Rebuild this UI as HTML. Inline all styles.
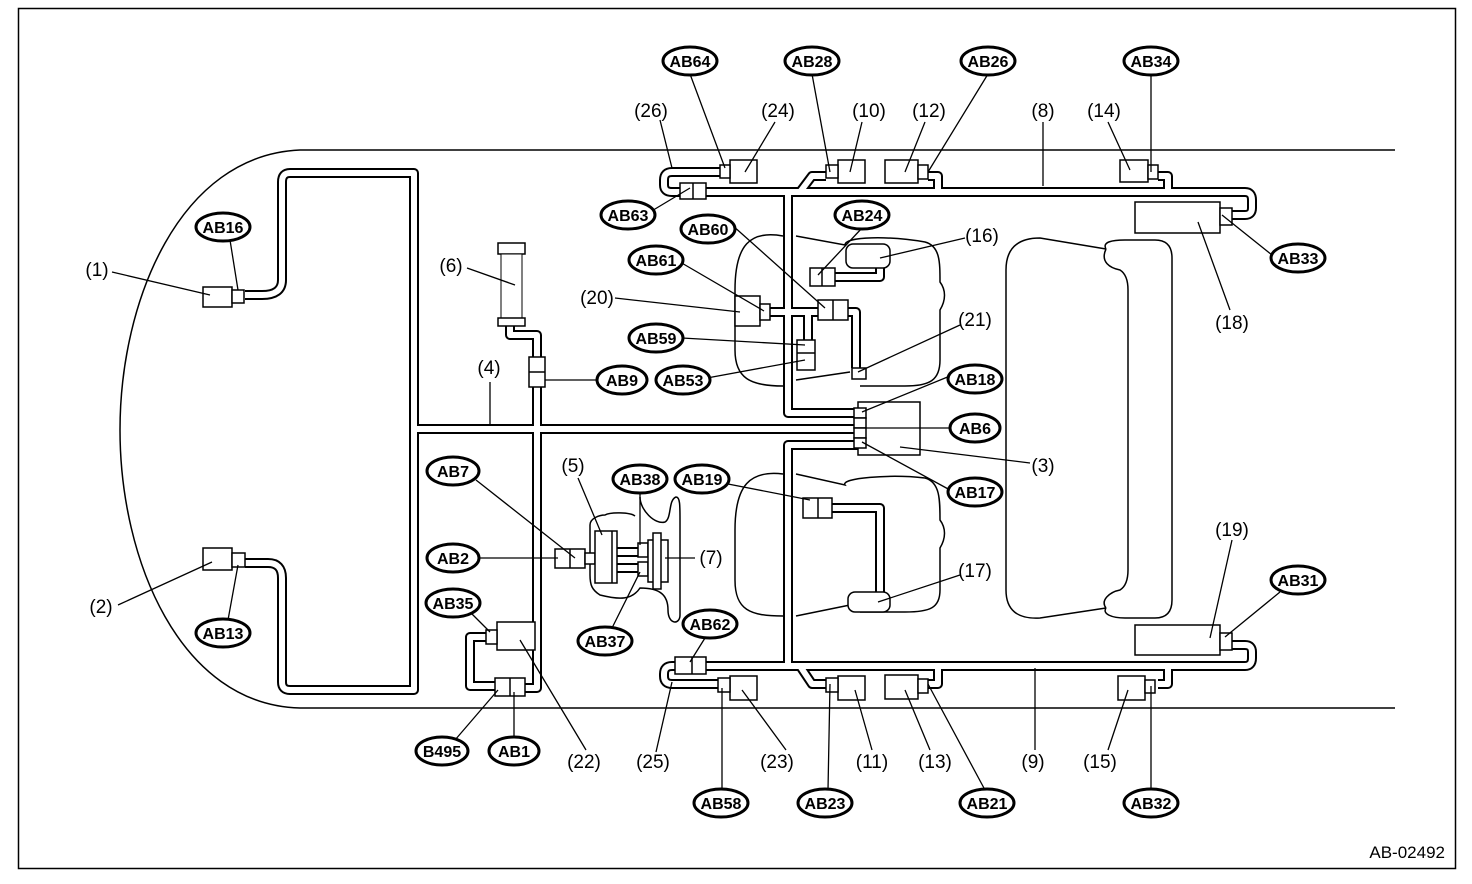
<!DOCTYPE html>
<html><head><meta charset="utf-8"><style>
html,body{margin:0;padding:0;background:#fff}
svg{display:block}
text{font-family:"Liberation Sans",sans-serif}
.n{font-size:19px}
.b{font-size:16px;font-weight:bold}
</style></head><body>
<svg width="1472" height="884" viewBox="0 0 1472 884" xmlns="http://www.w3.org/2000/svg">
<rect x="18.5" y="8.5" width="1437" height="860" fill="none" stroke="#000" stroke-width="1.5"/>
<path d="M1395,150 L300,150 C180,155 120,300 120,430 C120,560 180,705 300,708 L1395,708" fill="none" stroke="#000" stroke-width="1.5"/>
<g fill="none" stroke="#000" stroke-width="1.5">
<path d="M783,236 C750,230 735,245 735,290 V350 C735,378 750,386 783,386"/>
<path d="M796,236 L845,245 C845,236 890,236 925,242 C940,246 940,262 940,282 C946,290 946,300 940,310 V360 C940,380 930,386 905,386 H860"/>
<path d="M796,380 L850,372"/>
<path d="M783,474 C750,470 735,485 735,530 V580 C735,610 750,616 783,616"/>
<path d="M796,474 L845,485 C840,478 890,474 925,478 C940,482 940,500 940,520 C946,528 946,538 940,548 V590 C940,608 930,612 905,612 H860"/>
<path d="M796,616 L850,605"/>
<path d="M1106,249 L1040,238 Q1006,238 1006,270 V590 Q1006,620 1040,618 L1106,608"/>
<path d="M1106,249 C1102,242 1112,240 1125,240 H1155 Q1172,240 1172,258 V600 Q1172,618 1155,618 H1125 C1112,618 1102,614 1106,608"/>
<path d="M1106,249 C1100,262 1110,268 1120,270 Q1128,275 1128,290 V570 Q1128,585 1120,590 C1110,592 1100,600 1106,608"/>
<path d="M640,497 C640,510 655,525 665,522 C672,518 668,500 676,497 C680,497 680,505 680,520 V615 C680,625 668,625 668,610 C668,595 660,588 640,588 C632,600 620,600 600,595 C592,590 590,585 590,575 V525 C590,518 600,515 605,515 C610,512 630,512 635,516"/>
</g>
<defs>
<g id="tubes" fill="none" stroke-linejoin="round">
<path d="M245,295 H262 Q282,295 282,280 V182 Q282,173 290,173 H414 V690 H290 Q282,690 282,682 V578 Q282,563 268,563 H245"/>
<path d="M414,429 H858"/>
<path d="M537,378 V688 H520"/>
<path d="M510,326 V335 H537 V358"/>
<path d="M858,413 H788 V192"/>
<path d="M722,172 H672 Q664,172 664,180 V185 Q664,192 672,192 H1245 Q1252,192 1252,200 V208 Q1252,215 1245,215 H1232"/>
<path d="M800,192 L812,176 H826"/>
<path d="M928,176 H938 V192"/>
<path d="M1158,176 H1168 V192"/>
<path d="M858,445 H788 V666"/>
<path d="M722,684 H672 Q664,684 664,676 V674 Q664,666 672,666 H1245 Q1252,666 1252,658 V652 Q1252,645 1245,645 H1232"/>
<path d="M800,666 L812,684 H826"/>
<path d="M928,684 H938 V666"/>
<path d="M1158,684 H1168 V666"/>
<path d="M770,312 H818"/>
<path d="M808,312 V345"/>
<path d="M848,312 H856 V368"/>
<path d="M835,277 H880 V262"/>
<path d="M832,508 H880 V595"/>
<path d="M486,637 H470 V686 H495"/>
<path d="M590,558 H600"/>
<path d="M617,552 H640 M617,568 H640"/>
</g>
</defs>
<use href="#tubes" stroke="#000" stroke-width="10"/>
<use href="#tubes" stroke="#fff" stroke-width="6"/>
<g fill="#fff" stroke="#000" stroke-width="1.5">
<rect x="203" y="287" width="29" height="20"/><rect x="232" y="290" width="12" height="13"/>
<rect x="203" y="548" width="29" height="22"/><rect x="232" y="553" width="13" height="14"/>
<rect x="498" y="243" width="27" height="11"/><rect x="501" y="254" width="21" height="64" stroke-width="1"/><rect x="498" y="318" width="27" height="8"/>
<rect x="529" y="357" width="16" height="30"/><line x1="529" y1="372" x2="545" y2="372"/>
<rect x="730" y="160" width="27" height="23"/><rect x="720" y="165" width="10" height="13"/>
<rect x="680" y="183" width="26" height="16"/><line x1="693" y1="183" x2="693" y2="199"/>
<rect x="838" y="160" width="27" height="23"/><rect x="826" y="165" width="12" height="13"/>
<rect x="885" y="160" width="33" height="23"/><rect x="918" y="165" width="10" height="14"/>
<rect x="1120" y="160" width="28" height="22"/><rect x="1148" y="165" width="10" height="14"/>
<rect x="1135" y="202" width="85" height="31"/><rect x="1220" y="208" width="12" height="17"/>
<rect x="1135" y="625" width="85" height="30"/><rect x="1220" y="633" width="12" height="17"/>
<rect x="730" y="676" width="27" height="24"/><rect x="718" y="678" width="12" height="14"/>
<rect x="675" y="657" width="31" height="17"/><line x1="692" y1="657" x2="692" y2="674"/>
<rect x="838" y="676" width="27" height="24"/><rect x="826" y="678" width="12" height="14"/>
<rect x="885" y="675" width="33" height="24"/><rect x="918" y="679" width="10" height="14"/>
<rect x="1118" y="676" width="27" height="24"/><rect x="1145" y="680" width="10" height="13"/>
<rect x="858" y="402" width="62" height="53"/>
<rect x="854" y="408" width="12" height="10"/><rect x="854" y="418" width="12" height="10"/><rect x="854" y="428" width="12" height="10"/><rect x="854" y="438" width="12" height="10"/>
<rect x="735" y="296" width="25" height="30"/><rect x="760" y="304" width="10" height="16"/>
<rect x="818" y="300" width="30" height="20"/><line x1="833" y1="300" x2="833" y2="320"/>
<rect x="797" y="340" width="18" height="30"/><line x1="797" y1="353" x2="815" y2="353"/>
<rect x="810" y="268" width="25" height="18"/><line x1="822" y1="268" x2="822" y2="286"/>
<rect x="846" y="244" width="44" height="24" rx="7"/>
<rect x="852" y="368" width="14" height="11"/>
<rect x="803" y="498" width="29" height="20"/><line x1="818" y1="498" x2="818" y2="518"/>
<rect x="848" y="592" width="42" height="20" rx="7"/>
<rect x="497" y="622" width="38" height="28"/><rect x="486" y="630" width="11" height="14"/>
<rect x="495" y="678" width="30" height="18"/><line x1="510" y1="678" x2="510" y2="696"/>
<rect x="555" y="549" width="30" height="19"/><line x1="570" y1="549" x2="570" y2="568"/>
<rect x="585" y="553" width="10" height="11"/>
<rect x="595" y="531" width="22" height="52"/><line x1="612" y1="531" x2="612" y2="583"/>
<rect x="638" y="543" width="10" height="14"/><rect x="638" y="562" width="10" height="14"/>
<rect x="648" y="540" width="20" height="42"/><rect x="653" y="533" width="8" height="56"/>
</g>
<g stroke="#000" stroke-width="1.3" fill="none">
<path d="M690,74 L725,168 M812,74 L830,172 M988,74 L928,172 M1151,74 L1151,172"/>
<path d="M660,120 L672,168 M775,122 L745,172 M862,122 L850,172 M925,122 L905,172 M1043,122 L1043,186 M1108,122 L1130,170"/>
<path d="M230,240 L238,290 M112,272 L210,295"/>
<path d="M650,212 L690,188 M732,225 L825,308 M862,228 L818,275 M965,238 L880,258 M680,262 L764,311 M615,298 L740,312 M682,338 L805,345 M707,378 L805,360 M960,325 L858,372 M597,380 L545,380 M490,382 L490,424 M467,268 L515,285"/>
<path d="M950,376 L862,412 M950,428 L865,428 M950,490 L862,442 M1030,463 L900,447"/>
<path d="M1272,255 L1222,215 M1230,310 L1198,222"/>
<path d="M476,480 L575,558 M578,478 L602,535 M640,493 L640,545 M728,484 L810,500 M480,558 L558,558 M695,558 L665,558 M960,575 L878,602 M612,628 L640,572"/>
<path d="M470,612 L490,632 M705,638 L690,662 M1280,592 L1225,637 M1232,540 L1210,638"/>
<path d="M228,620 L238,565 M118,605 L212,562"/>
<path d="M455,740 L498,690 M514,738 L514,692 M586,750 L520,640"/>
<path d="M656,752 L672,682 M722,790 L722,688 M786,750 L742,690 M828,790 L830,684 M872,750 L855,690 M930,750 L905,690 M985,790 L928,684 M1035,750 L1035,668 M1108,750 L1128,690 M1151,790 L1151,686"/>
</g>
<g fill="#fff" stroke="#000" stroke-width="3">
<ellipse cx="690" cy="61" rx="27" ry="14"/><ellipse cx="812" cy="61" rx="27" ry="14"/><ellipse cx="988" cy="61" rx="27" ry="14"/><ellipse cx="1151" cy="61" rx="27" ry="14"/>
<ellipse cx="223" cy="227" rx="27" ry="14"/><ellipse cx="628" cy="215" rx="27" ry="14"/><ellipse cx="708" cy="229" rx="27" ry="14"/><ellipse cx="862" cy="215" rx="27" ry="14"/>
<ellipse cx="656" cy="260" rx="27" ry="14"/><ellipse cx="656" cy="338" rx="27" ry="14"/><ellipse cx="622" cy="380" rx="25" ry="14"/><ellipse cx="683" cy="380" rx="27" ry="14"/>
<ellipse cx="975" cy="379" rx="27" ry="14"/><ellipse cx="975" cy="428" rx="25" ry="14"/><ellipse cx="975" cy="492" rx="27" ry="14"/><ellipse cx="1298" cy="258" rx="27" ry="14"/>
<ellipse cx="453" cy="471" rx="26" ry="14"/><ellipse cx="640" cy="479" rx="27" ry="14"/><ellipse cx="702" cy="479" rx="27" ry="14"/><ellipse cx="453" cy="558" rx="26" ry="14"/>
<ellipse cx="453" cy="603" rx="27" ry="14"/><ellipse cx="605" cy="641" rx="27" ry="14"/><ellipse cx="710" cy="624" rx="27" ry="14"/><ellipse cx="1298" cy="580" rx="27" ry="14"/>
<ellipse cx="223" cy="633" rx="27" ry="14"/><ellipse cx="442" cy="751" rx="26" ry="14"/><ellipse cx="514" cy="751" rx="25" ry="14"/>
<ellipse cx="721" cy="803" rx="27" ry="14"/><ellipse cx="825" cy="803" rx="27" ry="14"/><ellipse cx="987" cy="803" rx="27" ry="14"/><ellipse cx="1151" cy="803" rx="27" ry="14"/>
</g>
<g class="b" text-anchor="middle">
<text x="690" y="67">AB64</text><text x="812" y="67">AB28</text><text x="988" y="67">AB26</text><text x="1151" y="67">AB34</text>
<text x="223" y="233">AB16</text><text x="628" y="221">AB63</text><text x="708" y="235">AB60</text><text x="862" y="221">AB24</text>
<text x="656" y="266">AB61</text><text x="656" y="344">AB59</text><text x="622" y="386">AB9</text><text x="683" y="386">AB53</text>
<text x="975" y="385">AB18</text><text x="975" y="434">AB6</text><text x="975" y="498">AB17</text><text x="1298" y="264">AB33</text>
<text x="453" y="477">AB7</text><text x="640" y="485">AB38</text><text x="702" y="485">AB19</text><text x="453" y="564">AB2</text>
<text x="453" y="609">AB35</text><text x="605" y="647">AB37</text><text x="710" y="630">AB62</text><text x="1298" y="586">AB31</text>
<text x="223" y="639">AB13</text><text x="442" y="757">B495</text><text x="514" y="757">AB1</text>
<text x="721" y="809">AB58</text><text x="825" y="809">AB23</text><text x="987" y="809">AB21</text><text x="1151" y="809">AB32</text>
</g>
<g class="n" text-anchor="middle">
<text x="651" y="117">(26)</text><text x="778" y="117">(24)</text><text x="869" y="117">(10)</text><text x="929" y="117">(12)</text><text x="1043" y="117">(8)</text><text x="1104" y="117">(14)</text>
<text x="97" y="276">(1)</text><text x="451" y="272">(6)</text><text x="597" y="304">(20)</text><text x="982" y="242">(16)</text><text x="975" y="326">(21)</text><text x="489" y="374">(4)</text><text x="1232" y="329">(18)</text>
<text x="1043" y="472">(3)</text><text x="573" y="472">(5)</text><text x="711" y="564">(7)</text><text x="975" y="577">(17)</text><text x="1232" y="536">(19)</text><text x="101" y="613">(2)</text>
<text x="584" y="768">(22)</text><text x="653" y="768">(25)</text><text x="777" y="768">(23)</text><text x="872" y="768">(11)</text><text x="935" y="768">(13)</text><text x="1033" y="768">(9)</text><text x="1100" y="768">(15)</text>
</g>
<text x="1445" y="858" text-anchor="end" style="font-size:17px">AB-02492</text>
</svg>
</body></html>
